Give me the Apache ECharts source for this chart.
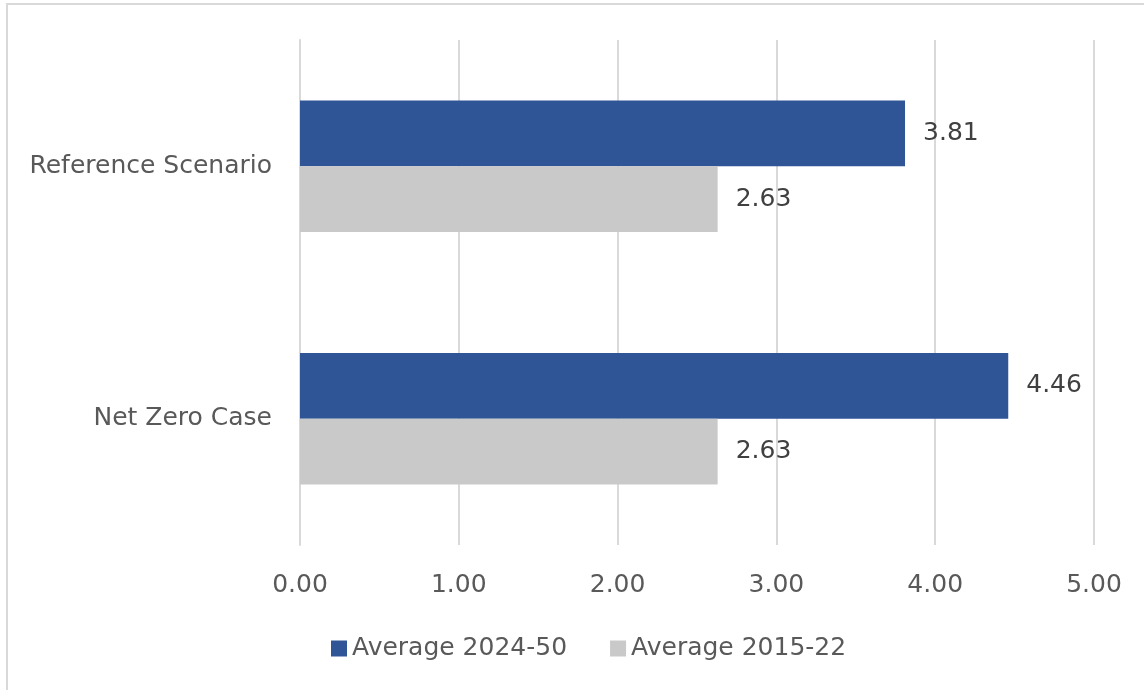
<!DOCTYPE html>
<html>
<head>
<meta charset="UTF-8">
<title>Average 2024-50 vs 2015-22</title>
<script src="https://cdn.jsdelivr.net/npm/echarts@6/dist/echarts.min.js"></script>
<style>
	html, body{
		margin:0;
		padding:0;
		width:100%;
		height:100%;
		background:#fff;
		overflow:hidden;
	}
	#main{
		width:1144px;
		height:690px;
	}
</style>
</head>
<body>
<div id="main"></div>
<script>
// categories top to bottom
var categories = ['Reference Scenario', 'Net Zero Case'];
var avg2024 = [3.81, 4.46];
var avg2015 = [2.63, 2.63];
var xTicks = [0, 1, 2, 3, 4, 5];

var font = 'DejaVu Sans';
var chart = echarts.init(document.getElementById('main'));
var option = {
	animation: false,
	textStyle: { fontFamily: font },
	graphic: [{
		type: 'rect',
		shape: { x: 7, y: 4, width: 1150, height: 700 },
		style: { fill: 'none', stroke: '#D9D9D9', lineWidth: 2 },
		silent: true
	}],
	grid: {
		left: 300,
		right: 50,
		top: 40,
		bottom: 145
	},
	legend: {
		bottom: 24,
		left: 326,
		itemWidth: 16,
		itemHeight: 16,
		itemGap: 43,
		icon: 'rect',
		textStyle: { fontSize: 25, color: '#595959', fontFamily: font },
		data: ['Average 2024-50', 'Average 2015-22']
	},
	xAxis: {
		type: 'value',
		min: xTicks[0],
		max: xTicks[xTicks.length - 1],
		interval: 1,
		axisLine: { show: false },
		axisTick: { show: false },
		splitLine: { lineStyle: { color: '#D9D9D9', width: 2 } },
		axisLabel: {
			fontSize: 25,
			color: '#595959',
			margin: 28,
			formatter: function(v){ return v.toFixed(2); }
		}
	},
	yAxis: {
		type: 'category',
		inverse: true,
		data: categories,
		axisLine: { show: true, lineStyle: { color: '#D9D9D9', width: 2 } },
		axisTick: { show: false },
		axisLabel: { fontSize: 25, color: '#595959', margin: 28, padding: [6, 0, 0, 0] }
	},
	series: [
		{
			name: 'Average 2024-50',
			type: 'bar',
			data: avg2024,
			barGap: '0%',
			barCategoryGap: '48%',
			itemStyle: { color: '#2F5597' },
			label: {
				show: true,
				position: 'right',
				distance: 18,
				fontSize: 25,
				color: '#404040',
				formatter: function(p){ return p.value.toFixed(2); }
			}
		},
		{
			name: 'Average 2015-22',
			type: 'bar',
			data: avg2015,
			barGap: '0%',
			barCategoryGap: '48%',
			itemStyle: { color: '#C9C9C9' },
			label: {
				show: true,
				position: 'right',
				distance: 18,
				fontSize: 25,
				color: '#404040',
				formatter: function(p){ return p.value.toFixed(2); }
			}
		}
	]
};
chart.setOption(option);
</script>
</body>
</html>
